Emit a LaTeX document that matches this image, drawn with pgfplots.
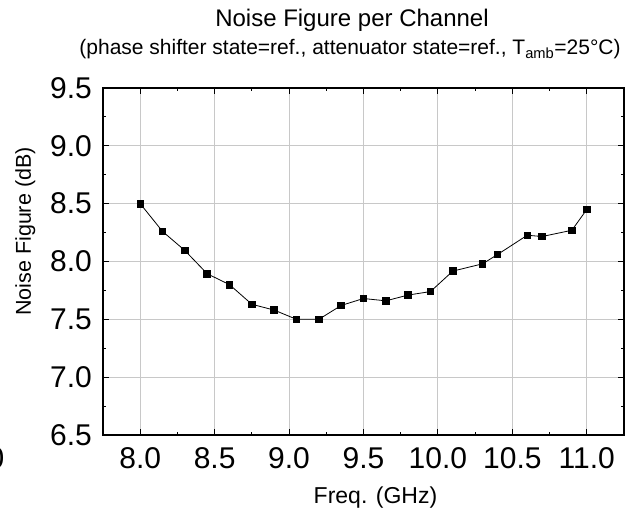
\documentclass[border=0pt]{standalone}
\usepackage{fontspec}
\setmainfont{Liberation Sans}
\usepackage{pgfplots}
\pgfplotsset{compat=1.18}
\definecolor{gridgray}{RGB}{200,200,200}
\begin{document}
\begin{tikzpicture}
\useasboundingbox (-103bp,-75bp) rectangle (539bp,435bp);
\begin{axis}[
  at={(0,0)}, anchor=south west,
  scale only axis,
  width=521bp, height=347bp,
  xmin=7.75, xmax=11.25,
  ymin=6.5, ymax=9.5,
  xtick={8,8.5,...,11},
  ytick={6.5,7,...,9.5},
  minor x tick num=1,
  minor y tick num=1,
  tick align=inside,
  major tick length=6bp,
  minor tick length=3.5bp,
  every tick/.style={black, line width=1bp},
  axis line style={line width=1.4bp},
  grid=major,
  major grid style={gridgray, line width=0.9bp},
  /pgf/number format/assume math mode=true,
  xticklabel={\pgfmathprintnumber[fixed,fixed zerofill,precision=1]{\tick}},
  yticklabel={\pgfmathprintnumber[fixed,fixed zerofill,precision=1]{\tick}},
  tick label style={font=\fontsize{30bp}{36bp}\selectfont},
  xticklabel style={anchor=north, inner sep=0pt, yshift=-12bp},
  yticklabel style={anchor=east, inner sep=0pt, xshift=-11bp},
]
\addplot[black, line width=0.8bp, mark=square*, mark size=3.3bp, mark options={fill=black}]
coordinates {
(8.0,8.50) (8.15,8.26) (8.3,8.095) (8.45,7.894) (8.6,7.80) (8.75,7.63)
(8.9,7.58) (9.05,7.50) (9.2,7.50) (9.35,7.62) (9.5,7.68) (9.65,7.66)
(9.8,7.71) (9.95,7.74) (10.1,7.917) (10.3,7.98) (10.4,8.06) (10.6,8.227)
(10.7,8.216) (10.9,8.27) (11.0,8.45)
};
\end{axis}
\node[anchor=base, inner sep=0pt, font=\fontsize{24bp}{28bp}\selectfont] at (249bp,408bp) {Noise Figure per Channel};
\node[anchor=base, inner sep=0pt, font=\fontsize{21bp}{25bp}\selectfont] at (247bp,380bp) {(phase shifter state=ref., attenuator state=ref., T\textsubscript{amb}=25°C)};
\node[anchor=base, inner sep=0pt, font=\fontsize{23bp}{27bp}\selectfont] at (272.5bp,-68bp) {Freq. (GHz)};
\node[anchor=base, inner sep=0pt, rotate=90, font=\fontsize{21.5bp}{26bp}\selectfont] at (-72bp,203.5bp) {Noise Figure (dB)};
\node[anchor=base east, inner sep=0pt, font=\fontsize{30bp}{36bp}\selectfont] at (-98.5bp,-33bp) {0};
\end{tikzpicture}
\end{document}
